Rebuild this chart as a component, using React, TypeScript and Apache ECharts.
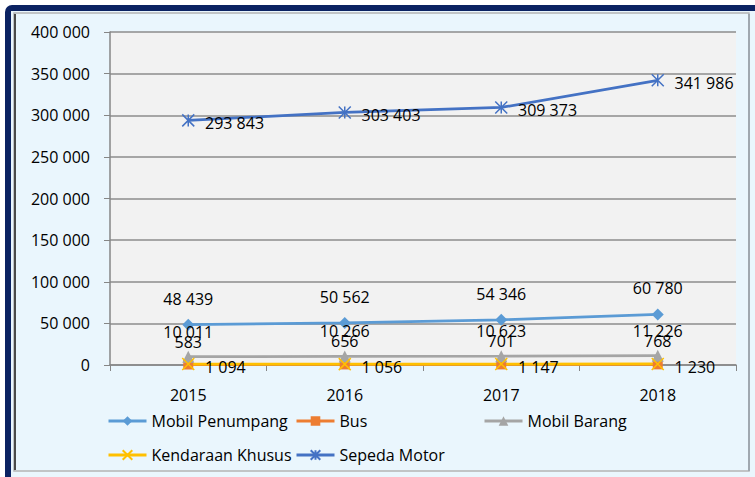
import React, { useEffect, useRef } from "react";
import * as echarts from "echarts";

const years = ["2015", "2016", "2017", "2018"];
const mobilPenumpang = [48439, 50562, 54346, 60780];
const bus = [583, 656, 701, 768];
const mobilBarang = [10011, 10266, 10623, 11226];
const kendaraanKhusus = [1094, 1056, 1147, 1230];
const sepedaMotor = [293843, 303403, 309373, 341986];

const FONT = "Open Sans";
const fmt = (v: number) => String(v).replace(/\B(?=(\d{3})+(?!\d))/g, " ");

const crossPath = "path://M0,0L10,10M10,0L0,10";
const starPath = "path://M0,0L10,10M10,0L0,10M5,0L5,10";

export default function App() {
  const ref = useRef<HTMLDivElement>(null);
  useEffect(() => {
    if (!ref.current) return;
    const chart = echarts.init(ref.current, undefined, { renderer: "svg" });
    const labelBase = {
      show: true,
      fontFamily: FONT,
      fontSize: 16,
      color: "#000",
      formatter: (p: any) => fmt(p.value),
    };
    const legendBase = {
      orient: "horizontal" as const,
      padding: 0,
      itemWidth: 38,
      itemHeight: 12,
      lineStyle: { width: 3 },
      textStyle: { fontFamily: FONT, fontSize: 16, color: "#000" },
    };
    chart.setOption({
      animation: false,
      backgroundColor: "#ffffff",
      textStyle: { fontFamily: FONT },
      graphic: [
        {
          type: "rect",
          z: -20,
          shape: { x: 5, y: 5, width: 800, height: 800, r: 7 },
          style: { fill: "#0B2262" },
        },
        {
          type: "rect",
          z: -19,
          shape: { x: 11, y: 11, width: 800, height: 800 },
          style: { fill: "#EAF6FD" },
        },
        {
          type: "rect",
          z: -18,
          shape: { x: 14, y: 13, width: 735, height: 458 },
          style: { fill: "#EAF6FD", stroke: "#B4B4B4", lineWidth: 1.5 },
        },
        {
          type: "line",
          z: -17,
          shape: { x1: 15, y1: 14, x2: 15, y2: 470 },
          style: { stroke: "#4A4A4A", lineWidth: 2 },
        },
        {
          type: "line",
          z: -17,
          shape: { x1: 749, y1: 14, x2: 749, y2: 471 },
          style: { stroke: "#A0A8B0", lineWidth: 2 },
        },
      ],
      grid: {
        left: 110,
        right: 19,
        top: 32,
        bottom: 112,
        show: true,
        backgroundColor: "#F2F2F2",
        borderWidth: 0,
      },
      xAxis: {
        type: "category",
        data: years,
        boundaryGap: true,
        axisLine: { show: true, lineStyle: { color: "#868686", width: 1.5 } },
        axisTick: { show: true, length: 6, lineStyle: { color: "#868686" } },
        axisLabel: { fontFamily: FONT, fontSize: 16, color: "#000", margin: 22 },
      },
      yAxis: {
        type: "value",
        min: 0,
        max: 400000,
        interval: 50000,
        axisLine: { show: true, lineStyle: { color: "#868686", width: 1.5 } },
        axisTick: { show: true, length: 6, lineStyle: { color: "#868686" } },
        splitLine: { show: true, lineStyle: { color: "#8C8C8C", width: 1.5 } },
        axisLabel: {
          fontFamily: FONT,
          fontSize: 16,
          color: "#000",
          margin: 20,
          formatter: (v: number) => fmt(v),
        },
      },
      legend: [
        { ...legendBase, left: 107, top: 413, data: ["Mobil Penumpang"] },
        { ...legendBase, left: 295, top: 413, data: ["Bus"] },
        { ...legendBase, left: 483, top: 413, data: ["Mobil Barang"] },
        { ...legendBase, left: 107, top: 447, data: ["Kendaraan Khusus"] },
        { ...legendBase, left: 295, top: 447, data: ["Sepeda Motor"] },
      ],
      series: [
        {
          name: "Mobil Penumpang",
          type: "line",
          data: mobilPenumpang,
          symbol: "diamond",
          symbolSize: 12,
          lineStyle: { color: "#5B9BD5", width: 2.75 },
          itemStyle: { color: "#5B9BD5" },
          label: { ...labelBase, position: "top", distance: 12 },
        },
        {
          name: "Bus",
          type: "line",
          data: bus,
          symbol: "rect",
          symbolSize: 10,
          lineStyle: { color: "#ED7D31", width: 2.75 },
          itemStyle: { color: "#ED7D31" },
          label: { ...labelBase, position: "top", distance: 10 },
        },
        {
          name: "Mobil Barang",
          type: "line",
          data: mobilBarang,
          symbol: "triangle",
          symbolSize: 12,
          lineStyle: { color: "#A5A5A5", width: 2.75 },
          itemStyle: { color: "#A5A5A5" },
          label: { ...labelBase, position: "top", distance: 11 },
        },
        {
          name: "Kendaraan Khusus",
          type: "line",
          data: kendaraanKhusus,
          symbol: crossPath,
          symbolSize: 12,
          lineStyle: { color: "#FFC000", width: 2.75 },
          itemStyle: { color: "#FFC000", borderColor: "#FFC000", borderWidth: 1.5 },
          label: { ...labelBase, position: "right", distance: 10, offset: [0, 3] },
        },
        {
          name: "Sepeda Motor",
          type: "line",
          data: sepedaMotor,
          symbol: starPath,
          symbolSize: 12,
          lineStyle: { color: "#4472C4", width: 2.75 },
          itemStyle: { color: "#4472C4", borderColor: "#4472C4", borderWidth: 1.5 },
          label: { ...labelBase, position: "right", distance: 10, offset: [0, 3] },
        },
      ],
    });
    return () => chart.dispose();
  }, []);
  return (
    <div
      ref={ref}
      style={{ position: "fixed", left: 0, top: 0, width: 755, height: 477 }}
    />
  );
}
